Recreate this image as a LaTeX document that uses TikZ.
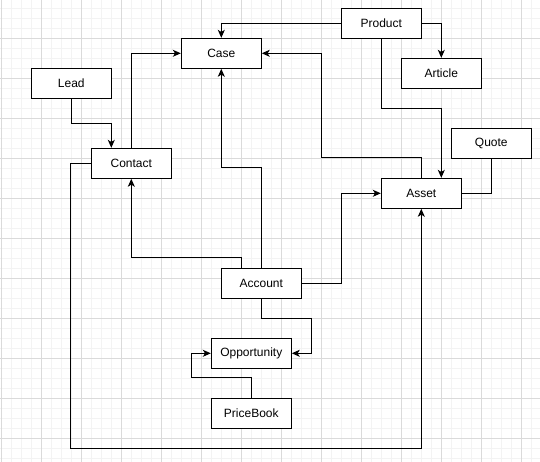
\documentclass[tikz,border=0pt]{standalone}
\usepackage{fontspec}
\setmainfont{Liberation Sans}
\usetikzlibrary{arrows.meta}
\definecolor{gridminor}{HTML}{F3F3F3}
\definecolor{gridmajor}{HTML}{DADADA}
\tikzset{
  entity/.style={draw=black, line width=1pt, fill=white, minimum width=80pt, minimum height=30pt, inner sep=0pt, font=\fontsize{12}{14}\selectfont},
  link/.style={draw=black, line width=1pt},
  arr/.style={link, -{Stealth[length=8pt,width=7pt,inset=2.2pt]}},
}
\begin{document}
\begin{tikzpicture}[x=1pt,y=-1pt]
\useasboundingbox (0,0) rectangle (540,462);
\fill[white] (0,0) rectangle (540,462);
% minor grid
\foreach \i in {0,...,54} {\draw[gridminor, line width=0.8pt] (1.3+10*\i,0) -- (1.3+10*\i,462);}
\foreach \j in {0,...,45} {\draw[gridminor, line width=0.8pt] (0,8.3+10*\j) -- (540,8.3+10*\j);}
% major grid
\foreach \i in {0,...,13} {\draw[gridmajor, line width=0.8pt] (1.3+40*\i,0) -- (1.3+40*\i,462);}
\foreach \j in {1,...,11} {\draw[gridmajor, line width=0.8pt] (0,-1.7+40*\j) -- (540,-1.7+40*\j);}

% nodes
\node[entity] (case) at (221.3,53.3) {Case};
\node[entity] (lead) at (71.3,83.3) {Lead};
\node[entity] (contact) at (131.3,163.3) {Contact};
\node[entity] (product) at (381.3,23.3) {Product};
\node[entity] (article) at (441.3,73.3) {Article};
\node[entity] (quote) at (491.3,143.3) {Quote};
\node[entity] (asset) at (421.3,193.3) {Asset};
\node[entity] (account) at (261.3,283.3) {Account};
\node[entity] (opp) at (251.3,353.3) {Opportunity};
\node[entity] (pb) at (251.3,413.3) {PriceBook};

% connectors
\draw[arr] (product.west) -| (case.north);
\draw[arr] (product.east) -| (article.north);
\draw[arr] (product.south) -- ++(0,70) -| ([xshift=20pt]asset.north);
\draw[arr] (asset.north) -- ++(0,-20) -- ++(-100,0) |- (case.east);
\draw[link] (quote.south) |- (asset.east);
\draw[arr] (lead.south) -- ++(0,25) -| ([xshift=-20pt]contact.north);
\draw[arr] (contact.north) |- (case.west);
\draw[arr] (contact.west) -- ++(-20,0) -- ++(0,285) -| (asset.south);
\draw[arr] ([xshift=-20pt]account.north) -- ++(0,-10) -| (contact.south);
\draw[arr] (account.north) -- ++(0,-100) -| (case.south);
\draw[arr] (account.east) -- ++(40,0) |- (asset.west);
\draw[arr] (account.south) -- ++(0,20) -- ++(50,0) |- (opp.east);
\draw[arr] (pb.north) -- ++(0,-20) -- ++(-60,0) |- (opp.west);
\end{tikzpicture}
\end{document}
